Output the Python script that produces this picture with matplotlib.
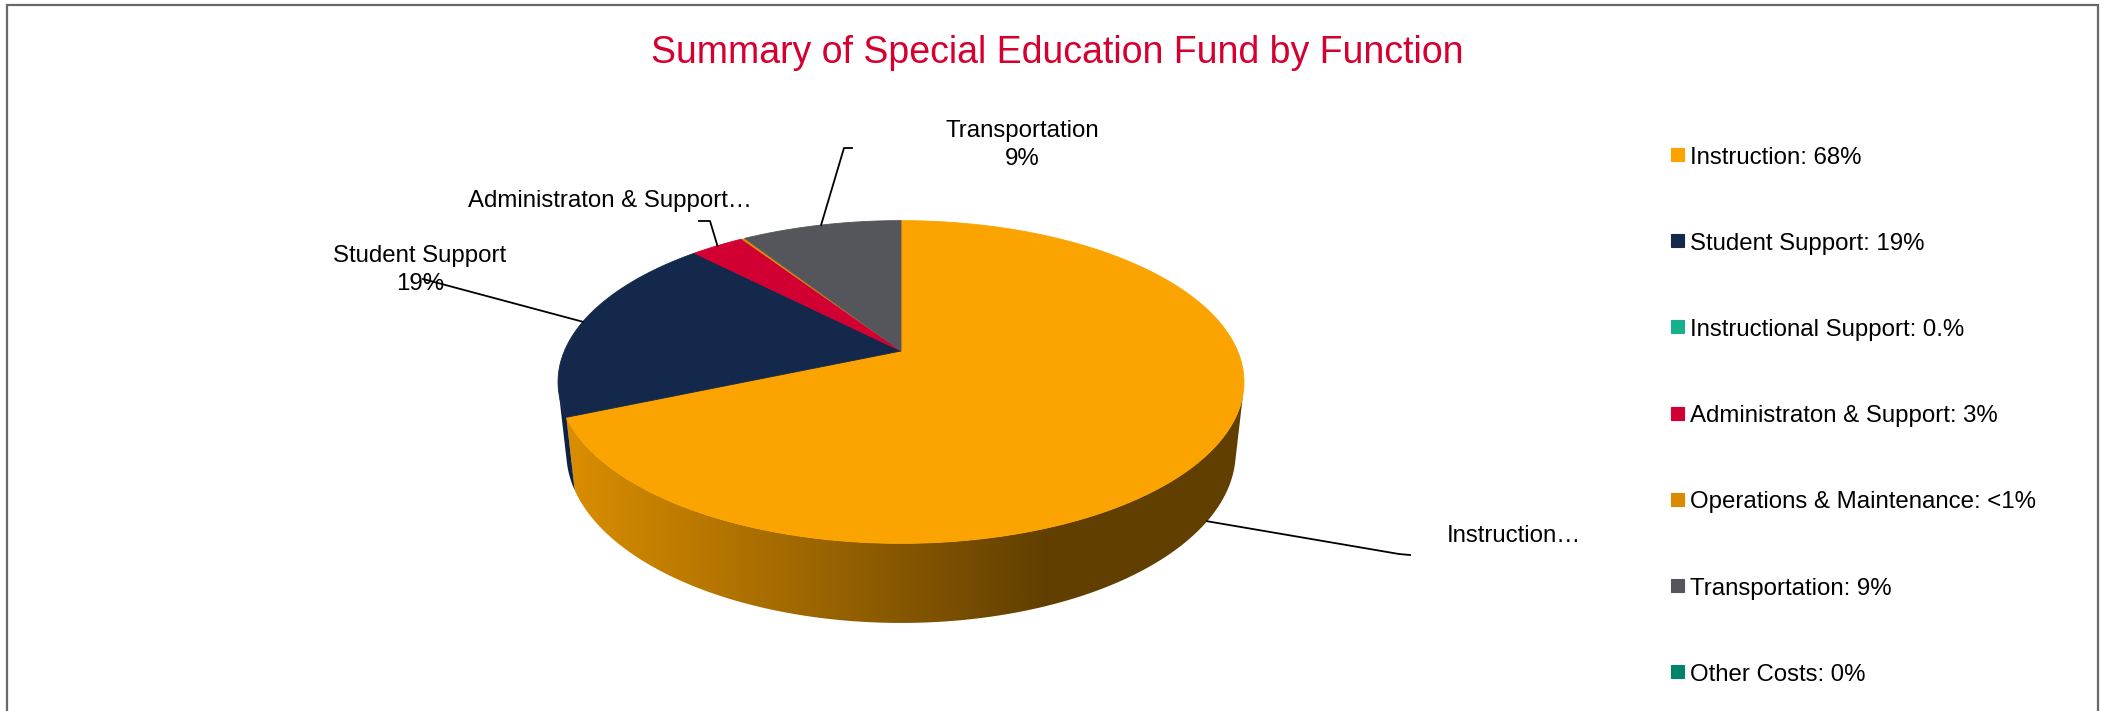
import numpy as np
import matplotlib.pyplot as plt
from matplotlib.patches import Polygon, Rectangle
from matplotlib.lines import Line2D

plt.rcParams['font.family'] = ['Liberation Sans', 'DejaVu Sans']

# budget share by function (percent)
categories = ['Instruction', 'Student Support', 'Instructional Support',
              'Administraton & Support', 'Operations & Maintenance',
              'Transportation', 'Other Costs']
values = [68, 19, 0, 3, 0.2, 9, 0]
legend_pct = ['68%', '19%', '0.%', '3%', '<1%', '9%', '0%']
colors = ['#FBA300', '#13284B', '#16B08F', '#D20032', '#DC8A00', '#54565B', '#00836B']

# slices that get an outside label: (index, text, label xy, elbow/stub points, anchor depth)
pie_labels = [
    (0, 'Instruction…', (1447, 536), [(1410, 555), (1399, 554)], 1.0, 'left'),
    (1, 'Student Support\n19%', (420, 270), [(423, 279)], 0.0, 'center'),
    (3, 'Administraton & Support…', (610, 201), [(699, 221), (710, 221)], 0.0, 'center'),
    (5, 'Transportation\n9%', (1022, 145), [(852, 148), (844, 148)], 0.0, 'center'),
]

W, H = 2117, 711
fig = plt.figure(figsize=(W / 100, H / 100), dpi=100)
ax = fig.add_axes([0, 0, 1, 1])
ax.set_xlim(0, W)
ax.set_ylim(H, 0)
ax.axis('off')

# perspective view of a flat cylinder
elev = np.radians(27.5)
dist = 4.62
focal = 1555
cx, cy = 901, 351
thick = 0.237


def project(theta, z=0.0, r=1.0):
    X = r * np.sin(theta)
    Y = r * np.cos(theta)
    depth = dist + Y * np.cos(elev) - z * np.sin(elev)
    up = Y * np.sin(elev) + z * np.cos(elev)
    return cx + focal * X / depth, cy - focal * up / depth


vals = np.array(values, dtype=float)
bounds = np.concatenate([[0], np.cumsum(vals / vals.sum())]) * 2 * np.pi

# part of the outer wall facing the camera
lim = np.arccos(-1 / (dist * np.cos(elev)))
vis_lo, vis_hi = lim, 2 * np.pi - lim

outline_x = project(np.linspace(0, 2 * np.pi, 400))[0]
x_left = outline_x.min()
x_dark = cx + 0.42 * (outline_x.max() - cx)

# outer walls with left-to-right shading
for i, c in enumerate(colors):
    a, b = max(bounds[i], vis_lo), min(bounds[i + 1], vis_hi)
    if b <= a:
        continue
    t = np.linspace(a, b, 200)
    tx, ty = project(t, 0.0)
    bx, by = project(t[::-1], -thick)
    pts = np.column_stack([np.concatenate([tx, bx]), np.concatenate([ty, by])])
    poly = Polygon(pts, closed=True, facecolor='none', edgecolor='none')
    ax.add_patch(poly)
    xs = np.linspace(pts[:, 0].min(), pts[:, 0].max(), 300)
    shade = np.clip((xs - x_left) / (x_dark - x_left), 0, 1)
    shade = 0.88 - 0.49 * shade
    base = np.array(plt.matplotlib.colors.to_rgb(c))
    img = (shade[:, None] * base[None, :])[None, :, :]
    im = ax.imshow(img, extent=(xs[0], xs[-1], pts[:, 1].max(), pts[:, 1].min()),
                   aspect='auto', interpolation='bilinear', zorder=1)
    im.set_clip_path(poly)

# top faces
for i, c in enumerate(colors):
    a, b = bounds[i], bounds[i + 1]
    if b - a <= 0:
        continue
    t = np.linspace(a, b, max(int(200 * (b - a)), 4))
    tx, ty = project(t, 0.0)
    pts = np.column_stack([np.concatenate([[cx], tx]), np.concatenate([[cy], ty])])
    lw = 0.6 if values[i] >= 1 else 0
    ax.add_patch(Polygon(pts, closed=True, facecolor=c, edgecolor=c, lw=lw, zorder=2))

# outside labels with leader lines
for idx, text, (lx, ly), elbow, zfrac, ha in pie_labels:
    mid = (bounds[idx] + bounds[idx + 1]) / 2
    axp, ayp = project(mid, -thick * zfrac)
    path = [(axp, ayp)] + list(reversed(elbow))
    ax.add_line(Line2D([p[0] for p in path], [p[1] for p in path],
                       color='black', lw=1.3, zorder=3))
    ax.text(lx, ly, text, fontsize=17.3, ha=ha, va='center', color='black',
            linespacing=1.32, zorder=4)

# title
ax.text(1057, 63, 'Summary of Special Education Fund by Function', fontsize=27,
        color='#D5002F', ha='center', va='baseline')

# legend
row_y = 155
for c, name, pct in zip(colors, categories, legend_pct):
    ax.add_patch(Rectangle((1671, row_y - 7), 13, 13, facecolor=c,
                           edgecolor=c, lw=0.8))
    ax.text(1690, row_y + 8.5, f'{name}: {pct}', fontsize=17.3,
            ha='left', va='baseline', color='black')
    row_y += 86.2

# chart frame (bottom edge runs off the image)
ax.add_line(Line2D([7, 7, 2098, 2098], [H + 5, 5, 5, H + 5],
                   color='#686868', lw=1.6, solid_joinstyle='miter'))

fig.savefig('out.png', dpi=100, facecolor='white')
